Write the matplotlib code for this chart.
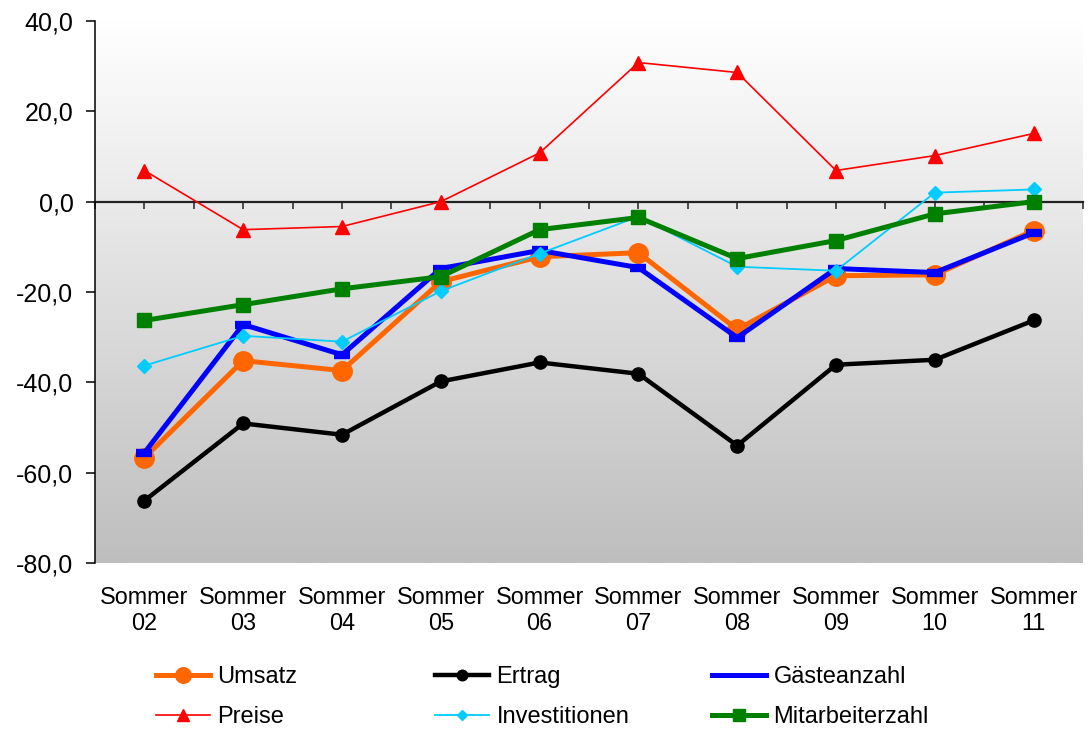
import matplotlib.pyplot as plt
import numpy as np
from matplotlib.colors import LinearSegmentedColormap
from matplotlib.lines import Line2D

plt.rcParams['font.family'] = ['Liberation Sans', 'DejaVu Sans']

# data
jahre = ['02', '03', '04', '05', '06', '07', '08', '09', '10', '11']
kategorien = ['Sommer\n' + j for j in jahre]

umsatz = [-56.7, -35.2, -37.4, -17.7, -12.2, -11.3, -28.3, -16.4, -16.2, -6.4]
ertrag = [-66.2, -49.1, -51.6, -39.8, -35.6, -38.1, -54.0, -36.1, -35.0, -26.3]
gaeste = [-55.6, -27.2, -33.9, -14.8, -10.8, -14.6, -30.1, -14.8, -15.7, -6.9]
preise = [6.9, -6.2, -5.5, 0.0, 10.8, 30.8, 28.6, 6.9, 10.2, 15.1]
investitionen = [-36.3, -29.7, -31.0, -19.8, -11.5, -3.3, -14.4, -15.3, 2.0, 2.7]
mitarbeiter = [-26.3, -22.8, -19.3, -16.6, -6.2, -3.5, -12.6, -8.6, -2.7, 0.0]

y_ticks = [-80, -60, -40, -20, 0, 20, 40]
y_labels = ['-80,0', '-60,0', '-40,0', '-20,0', '0,0', '20,0', '40,0']

fig = plt.figure(figsize=(10.89, 7.31), dpi=100)
ax = fig.add_axes([95 / 1089, 1 - 563 / 731, 988 / 1089, 542 / 731])

x = np.arange(len(jahre))

# Hintergrund mit Verlauf
cmap = LinearSegmentedColormap.from_list('bg', ['#ffffff', '#bebebe'])
grad = np.linspace(0, 1, 256).reshape(-1, 1)
ax.imshow(grad, extent=[-0.5, len(jahre) - 0.5, -80, 40], aspect='auto',
          cmap=cmap, zorder=0, origin='upper')

l_ums, = ax.plot(x, umsatz, color='#ff6600', lw=3.6, marker='o', ms=14, zorder=3)
l_ert, = ax.plot(x, ertrag, color='black', lw=3.2, marker='o', ms=9.5, zorder=3)
l_gae, = ax.plot(x, gaeste, color='#0000ff', lw=3.6, marker='_', ms=12, mew=6, zorder=3)
l_pre, = ax.plot(x, preise, color='#ff0000', lw=1.2, marker='^', ms=10, zorder=3)
l_inv, = ax.plot(x, investitionen, color='#00ccff', lw=1.3, marker='D', ms=7, zorder=3)
l_mit, = ax.plot(x, mitarbeiter, color='#008000', lw=3.6, marker='s', ms=10, zorder=3)

ax.set_xlim(-0.5, len(jahre) - 0.5)
ax.set_ylim(-80, 40)

ax.set_yticks(y_ticks)
ax.set_yticklabels(y_labels, fontsize=18)
ax.tick_params(axis='y', direction='out', length=6.5, width=1.1, pad=9)

# x-Achse bei 0 mit kurzen Strichen
ax.spines['bottom'].set_position(('data', 0))
ax.spines['bottom'].set_linewidth(1.6)
ax.spines['bottom'].set_color('#222222')
ax.spines['bottom'].set_zorder(2)
ax.set_xticks(np.arange(-0.5, len(jahre), 0.5))
ax.set_xticklabels([])
ax.tick_params(axis='x', direction='out', length=5, width=1.1, color='#222222')
ax.spines['top'].set_visible(False)
ax.spines['right'].set_visible(False)
ax.spines['left'].set_linewidth(1.1)

sec = ax.secondary_xaxis('bottom')
sec.set_xticks(x)
sec.set_xticklabels(kategorien, fontsize=16.8, linespacing=1.15)
sec.tick_params(length=0, pad=16.5)
sec.spines['bottom'].set_visible(False)

# Legende in drei Spalten (Gästeanzahl ohne Marker)
gae_leg = Line2D([], [], color='#0000ff', lw=3.6)
spalten = [([l_ums, l_pre], ['Umsatz', 'Preise'], 156),
           ([l_ert, l_inv], ['Ertrag', 'Investitionen'], 435),
           ([gae_leg, l_mit], ['Gästeanzahl', 'Mitarbeiterzahl'], 712)]
for handles, labels, xpos in spalten:
    fig.legend(handles, labels, loc='center left',
               bbox_to_anchor=(xpos / 1089, 1 - 697 / 731),
               frameon=False, fontsize=17, handlelength=2.3,
               handletextpad=0.3, labelspacing=0.75, borderpad=0,
               borderaxespad=0, markerscale=0.8)

fig.savefig('out.png', dpi=100)
